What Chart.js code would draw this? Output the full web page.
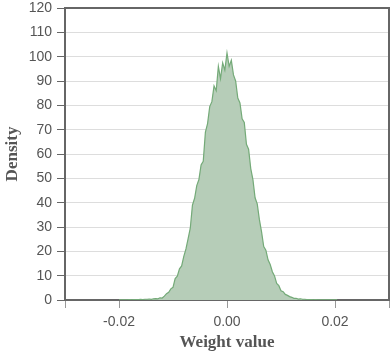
<!DOCTYPE html>
<html>
<head>
<meta charset="utf-8">
<script src="https://cdn.jsdelivr.net/npm/chart.js@4"></script>
<style>
  html, body { margin: 0; padding: 0; background: #fff; }
  #wrap { width: 390px; height: 354px; position: relative; }
</style>
</head>
<body>
<div id="wrap"><canvas id="histChart"></canvas></div>
<script>
// bin centres (weight value) and density
const weightValues = [
  -0.0200, -0.0196, -0.0192, -0.0188, -0.0184, -0.0180, -0.0176, -0.0172, -0.0168, -0.0164,
  -0.0160, -0.0156, -0.0152, -0.0148, -0.0144, -0.0140, -0.0136, -0.0132, -0.0128, -0.0124,
  -0.0120, -0.0116, -0.0112, -0.0108, -0.0104, -0.0100, -0.0096, -0.0092, -0.0088, -0.0084,
  -0.0080, -0.0076, -0.0072, -0.0068, -0.0064, -0.0060, -0.0056, -0.0052, -0.0048, -0.0044,
  -0.0040, -0.0036, -0.0032, -0.0028, -0.0024, -0.0020, -0.0016, -0.0012, -0.0008, -0.0004,
   0.0000,  0.0004,  0.0008,  0.0012,  0.0016,  0.0020,  0.0024,  0.0028,  0.0032,  0.0036,
   0.0040,  0.0044,  0.0048,  0.0052,  0.0056,  0.0060,  0.0064,  0.0068,  0.0072,  0.0076,
   0.0080,  0.0084,  0.0088,  0.0092,  0.0096,  0.0100,  0.0104,  0.0108,  0.0112,  0.0116,
   0.0120,  0.0124,  0.0128,  0.0132,  0.0136,  0.0140,  0.0144,  0.0148,  0.0152,  0.0156,
   0.0160,  0.0164,  0.0168,  0.0172,  0.0176,  0.0180,  0.0184,  0.0188,  0.0192,  0.0196,
   0.0200,  0.0204
];
const density = [
  0.1, 0.1, 0.1, 0.1, 0.1, 0.2, 0.1, 0.2, 0.2, 0.2,
  0.3, 0.2, 0.3, 0.3, 0.4, 0.3, 0.5, 0.6, 0.5, 0.9,
  0.8, 1.6, 2.6, 3.2, 4.6, 5.2, 8.8, 9.8, 12.8, 14.0,
  17.9, 21.0, 25.2, 29.5, 39.0, 41.8, 47.0, 49.5, 55.5, 57.0,
  69.0, 72.5, 79.5, 81.5, 88.0, 86.0, 96.0, 91.0, 97.5, 94.5,
  101.5, 96.0, 98.5, 92.5, 90.0, 83.0, 81.0, 74.5, 73.0, 64.0,
  62.0, 54.0, 49.5, 42.0, 39.5, 33.0, 28.0, 22.0, 20.5, 16.5,
  14.6, 11.6, 9.9, 6.8, 5.9, 3.8, 3.4, 2.3, 1.9, 1.4,
  1.1, 0.7, 0.7, 0.4, 0.5, 0.3, 0.3, 0.2, 0.2, 0.2,
  0.1, 0.2, 0.1, 0.1, 0.1, 0.1, 0.1, 0.1, 0.1, 0.1,
  0.1, 0.1
];
const xTicks = [-0.03, -0.02, 0, 0.02, 0.03];
const xTickLabels = ['', '-0.02', '0.00', '0.02', ''];

const points = weightValues.map((x, i) => ({ x: x, y: density[i] }));

// top and right edge of the plot box
const frame = {
  id: 'frame',
  afterDraw(chart) {
    const a = chart.chartArea;
    const ctx = chart.ctx;
    ctx.save();
    ctx.strokeStyle = '#666';
    ctx.lineWidth = 2;
    ctx.beginPath();
    ctx.moveTo(a.left, a.top);
    ctx.lineTo(a.right, a.top);
    ctx.lineTo(a.right, a.bottom);
    ctx.stroke();
    ctx.restore();
  }
};

new Chart(document.getElementById('histChart'), {
  type: 'line',
  data: {
    datasets: [{
      data: points,
      fill: 'origin',
      backgroundColor: '#b6cdb8',
      borderColor: '#74aa78',
      borderWidth: 1.2,
      pointRadius: 0,
      tension: 0
    }]
  },
  options: {
    responsive: true,
    maintainAspectRatio: false,
    animation: false,
    layout: { padding: { top: 8, right: 1, left: 0, bottom: 0 } },
    plugins: { legend: { display: false }, tooltip: { enabled: false } },
    scales: {
      x: {
        type: 'linear',
        min: -0.03,
        max: 0.03,
        afterBuildTicks: (scale) => { scale.ticks = xTicks.map(v => ({ value: v })); },
        afterFit: (scale) => {
          scale.height = 54;
          scale.paddingLeft = 0;
          scale.paddingRight = 0;
        },
        border: { color: '#666', width: 2 },
        grid: { drawOnChartArea: false, tickLength: 8, tickColor: '#999' },
        ticks: {
          color: '#555',
          font: { family: 'Liberation Sans', size: 14 },
          padding: 6,
          maxRotation: 0,
          callback: (v, i) => xTickLabels[i]
        },
        title: {
          display: true,
          text: 'Weight value',
          color: '#555',
          font: { family: 'Liberation Serif', size: 17, weight: 'bold' },
          padding: { top: 0, bottom: 1 }
        }
      },
      y: {
        min: 0,
        max: 120,
        afterFit: (scale) => {
          scale.width = 65;
          scale.paddingTop = 0;
          scale.paddingBottom = 0;
        },
        border: { color: '#666', width: 2 },
        grid: { color: '#ddd', tickLength: 8, tickColor: '#666' },
        ticks: {
          stepSize: 10,
          color: '#555',
          font: { family: 'Liberation Sans', size: 14 },
          padding: 5
        },
        title: {
          display: true,
          text: 'Density',
          color: '#555',
          font: { family: 'Liberation Serif', size: 17, weight: 'bold' },
          padding: { top: 2, bottom: 0 }
        }
      }
    }
  },
  plugins: [frame]
});
</script>
</body>
</html>
